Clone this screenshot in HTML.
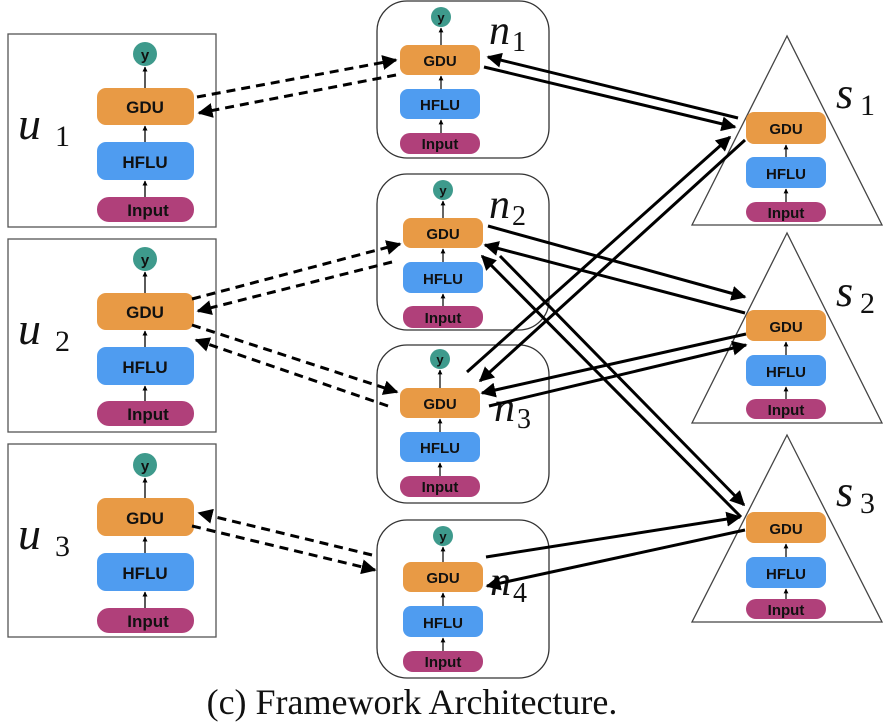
<!DOCTYPE html>
<html><head><meta charset="utf-8"><style>
html,body{margin:0;padding:0;background:#fff;}
svg{display:block;}
.b{font-family:"Liberation Sans",sans-serif;font-weight:bold;text-anchor:middle;fill:#111;}
.m{font-family:"Liberation Serif",serif;font-style:italic;fill:#111;}
.n{font-family:"Liberation Serif",serif;font-style:normal;fill:#111;}
</style></head><body>
<svg width="892" height="728" viewBox="0 0 892 728" xmlns="http://www.w3.org/2000/svg">
<defs>
<marker id="a" viewBox="0 0 10 10" refX="9" refY="5" markerWidth="5" markerHeight="5" orient="auto"><path d="M0,0 L10,5 L0,10 z" fill="#000"/></marker>
<marker id="s" viewBox="0 0 10 10" refX="9" refY="5" markerWidth="4" markerHeight="4" orient="auto"><path d="M0,0 L10,5 L0,10 z" fill="#000"/></marker>
</defs>

<g fill="none" stroke="#555" stroke-width="1.3">
<rect x="8" y="34" width="208" height="193"/>
<rect x="8" y="239" width="208" height="193"/>
<rect x="8" y="444" width="208" height="193"/>
</g>

<g>
<circle cx="145" cy="54" r="12" fill="#3E9A8C"/><text class="b" x="145" y="60" font-size="15">y</text>
<rect x="97" y="88" width="97" height="37" rx="9" fill="#E89A45"/><text class="b" x="145" y="113" font-size="17">GDU</text>
<rect x="97" y="142" width="97" height="38" rx="9" fill="#4F9CF0"/><text class="b" x="145" y="168" font-size="17">HFLU</text>
<rect x="97" y="197" width="97" height="25" rx="12" fill="#B0407A"/><text class="b" x="148" y="216" font-size="17">Input</text>
<g stroke="#000" stroke-width="1.3" marker-end="url(#s)"><line x1="145" y1="88" x2="145" y2="67"/><line x1="145" y1="142" x2="145" y2="126"/><line x1="145" y1="197" x2="145" y2="181"/></g>
</g>
<g>
<circle cx="145" cy="259" r="12" fill="#3E9A8C"/><text class="b" x="145" y="265" font-size="15">y</text>
<rect x="97" y="293" width="97" height="37" rx="9" fill="#E89A45"/><text class="b" x="145" y="318" font-size="17">GDU</text>
<rect x="97" y="347" width="97" height="38" rx="9" fill="#4F9CF0"/><text class="b" x="145" y="373" font-size="17">HFLU</text>
<rect x="97" y="401" width="97" height="25" rx="12" fill="#B0407A"/><text class="b" x="148" y="420" font-size="17">Input</text>
<g stroke="#000" stroke-width="1.3" marker-end="url(#s)"><line x1="145" y1="293" x2="145" y2="272"/><line x1="145" y1="347" x2="145" y2="331"/><line x1="145" y1="401" x2="145" y2="386"/></g>
</g>
<g>
<circle cx="145" cy="465" r="12" fill="#3E9A8C"/><text class="b" x="145" y="471" font-size="15">y</text>
<rect x="97" y="498" width="97" height="38" rx="9" fill="#E89A45"/><text class="b" x="145" y="524" font-size="17">GDU</text>
<rect x="97" y="553" width="97" height="38" rx="9" fill="#4F9CF0"/><text class="b" x="145" y="579" font-size="17">HFLU</text>
<rect x="97" y="608" width="97" height="25" rx="12" fill="#B0407A"/><text class="b" x="148" y="627" font-size="17">Input</text>
<g stroke="#000" stroke-width="1.3" marker-end="url(#s)"><line x1="145" y1="498" x2="145" y2="478"/><line x1="145" y1="553" x2="145" y2="537"/><line x1="145" y1="608" x2="145" y2="592"/></g>
</g>
<text class="m" x="18" y="139" font-size="46">u</text><text class="n" x="55" y="146" font-size="30">1</text>
<text class="m" x="18" y="344" font-size="46">u</text><text class="n" x="55" y="351" font-size="30">2</text>
<text class="m" x="18" y="549" font-size="46">u</text><text class="n" x="55" y="556" font-size="30">3</text>

<g fill="none" stroke="#333" stroke-width="1.3">
<rect x="377" y="1" width="172" height="157" rx="30"/>
<rect x="377" y="174" width="172" height="156" rx="30"/>
<rect x="377" y="345" width="172" height="158" rx="30"/>
<rect x="377" y="520" width="172" height="158" rx="30"/>
</g>
<g>
<circle cx="441" cy="17" r="10" fill="#3E9A8C"/><text class="b" x="441" y="22" font-size="13">y</text>
<rect x="400" y="45" width="80" height="30" rx="8" fill="#E89A45"/><text class="b" x="440" y="66" font-size="15">GDU</text>
<rect x="400" y="89" width="80" height="30" rx="8" fill="#4F9CF0"/><text class="b" x="440" y="110" font-size="15">HFLU</text>
<rect x="400" y="133" width="80" height="21" rx="10" fill="#B0407A"/><text class="b" x="440" y="149" font-size="15">Input</text>
<g stroke="#000" stroke-width="1.2" marker-end="url(#s)"><line x1="441" y1="45" x2="441" y2="28"/><line x1="441" y1="89" x2="441" y2="76"/><line x1="441" y1="133" x2="441" y2="120"/></g>
</g>
<g>
<circle cx="443" cy="190" r="10" fill="#3E9A8C"/><text class="b" x="443" y="195" font-size="13">y</text>
<rect x="403" y="218" width="80" height="30" rx="8" fill="#E89A45"/><text class="b" x="443" y="239" font-size="15">GDU</text>
<rect x="403" y="262" width="80" height="31" rx="8" fill="#4F9CF0"/><text class="b" x="443" y="284" font-size="15">HFLU</text>
<rect x="403" y="306" width="80" height="22" rx="10" fill="#B0407A"/><text class="b" x="443" y="323" font-size="15">Input</text>
<g stroke="#000" stroke-width="1.2" marker-end="url(#s)"><line x1="443" y1="218" x2="443" y2="201"/><line x1="443" y1="262" x2="443" y2="249"/><line x1="443" y1="306" x2="443" y2="294"/></g>
</g>
<g>
<circle cx="440" cy="359" r="10" fill="#3E9A8C"/><text class="b" x="440" y="364" font-size="13">y</text>
<rect x="400" y="388" width="80" height="30" rx="8" fill="#E89A45"/><text class="b" x="440" y="409" font-size="15">GDU</text>
<rect x="400" y="432" width="80" height="30" rx="8" fill="#4F9CF0"/><text class="b" x="440" y="453" font-size="15">HFLU</text>
<rect x="400" y="476" width="80" height="21" rx="10" fill="#B0407A"/><text class="b" x="440" y="492" font-size="15">Input</text>
<g stroke="#000" stroke-width="1.2" marker-end="url(#s)"><line x1="440" y1="388" x2="440" y2="370"/><line x1="440" y1="432" x2="440" y2="419"/><line x1="440" y1="476" x2="440" y2="463"/></g>
</g>
<g>
<circle cx="443" cy="536" r="10" fill="#3E9A8C"/><text class="b" x="443" y="541" font-size="13">y</text>
<rect x="403" y="562" width="80" height="30" rx="8" fill="#E89A45"/><text class="b" x="443" y="583" font-size="15">GDU</text>
<rect x="403" y="606" width="80" height="31" rx="8" fill="#4F9CF0"/><text class="b" x="443" y="628" font-size="15">HFLU</text>
<rect x="403" y="651" width="80" height="21" rx="10" fill="#B0407A"/><text class="b" x="443" y="667" font-size="15">Input</text>
<g stroke="#000" stroke-width="1.2" marker-end="url(#s)"><line x1="443" y1="562" x2="443" y2="547"/><line x1="443" y1="606" x2="443" y2="593"/><line x1="443" y1="651" x2="443" y2="638"/></g>
</g>
<text class="m" x="489" y="44" font-size="42">n</text><text class="n" x="512" y="51" font-size="28">1</text>
<text class="m" x="489" y="218" font-size="42">n</text><text class="n" x="512" y="225" font-size="28">2</text>
<text class="m" x="494" y="421" font-size="42">n</text><text class="n" x="517" y="428" font-size="28">3</text>
<text class="m" x="490" y="595" font-size="42">n</text><text class="n" x="513" y="602" font-size="28">4</text>

<g fill="none" stroke="#444" stroke-width="1.3">
<polygon points="787,36 692,225 882,225"/>
<polygon points="787,233 692,423 882,423"/>
<polygon points="787,435 692,622 882,622"/>
</g>
<g>
<rect x="746" y="112" width="80" height="32" rx="8" fill="#E89A45"/><text class="b" x="786" y="134" font-size="15">GDU</text>
<rect x="746" y="157" width="80" height="31" rx="8" fill="#4F9CF0"/><text class="b" x="786" y="179" font-size="15">HFLU</text>
<rect x="746" y="202" width="80" height="20" rx="10" fill="#B0407A"/><text class="b" x="786" y="218" font-size="15">Input</text>
<g stroke="#000" stroke-width="1.2" marker-end="url(#s)"><line x1="786" y1="157" x2="786" y2="145"/><line x1="786" y1="202" x2="786" y2="189"/></g>
</g>
<g>
<rect x="746" y="310" width="80" height="31" rx="8" fill="#E89A45"/><text class="b" x="786" y="332" font-size="15">GDU</text>
<rect x="746" y="355" width="80" height="31" rx="8" fill="#4F9CF0"/><text class="b" x="786" y="377" font-size="15">HFLU</text>
<rect x="746" y="399" width="80" height="20" rx="10" fill="#B0407A"/><text class="b" x="786" y="415" font-size="15">Input</text>
<g stroke="#000" stroke-width="1.2" marker-end="url(#s)"><line x1="786" y1="355" x2="786" y2="342"/><line x1="786" y1="399" x2="786" y2="387"/></g>
</g>
<g>
<rect x="746" y="512" width="80" height="31" rx="8" fill="#E89A45"/><text class="b" x="786" y="534" font-size="15">GDU</text>
<rect x="746" y="557" width="80" height="31" rx="8" fill="#4F9CF0"/><text class="b" x="786" y="579" font-size="15">HFLU</text>
<rect x="746" y="599" width="80" height="20" rx="10" fill="#B0407A"/><text class="b" x="786" y="615" font-size="15">Input</text>
<g stroke="#000" stroke-width="1.2" marker-end="url(#s)"><line x1="786" y1="557" x2="786" y2="544"/><line x1="786" y1="599" x2="786" y2="589"/></g>
</g>
<text class="m" x="836" y="108" font-size="44">s</text><text class="n" x="860" y="115" font-size="30">1</text>
<text class="m" x="836" y="306" font-size="44">s</text><text class="n" x="860" y="313" font-size="30">2</text>
<text class="m" x="836" y="506" font-size="44">s</text><text class="n" x="860" y="513" font-size="30">3</text>

<g stroke="#000" stroke-width="3" stroke-dasharray="9,6" fill="none" marker-end="url(#a)">
<line x1="197" y1="97" x2="396" y2="60"/>
<line x1="396" y1="75" x2="199" y2="113"/>
<line x1="192" y1="299" x2="400" y2="244"/>
<line x1="392" y1="262" x2="198" y2="311"/>
<line x1="192" y1="325" x2="397" y2="392"/>
<line x1="388" y1="406" x2="196" y2="340"/>
<line x1="372" y1="555" x2="199" y2="513"/>
<line x1="192" y1="526" x2="375" y2="570"/>
</g>
<g stroke="#000" stroke-width="3" fill="none" marker-end="url(#a)">
<line x1="738" y1="118" x2="488" y2="57"/>
<line x1="484" y1="67" x2="735" y2="127"/>
<line x1="745" y1="140" x2="480" y2="381"/>
<line x1="467" y1="372" x2="730" y2="137"/>
<line x1="488" y1="226" x2="745" y2="297"/>
<line x1="745" y1="313" x2="485" y2="245"/>
<line x1="500" y1="256" x2="744" y2="505"/>
<line x1="741" y1="517" x2="482" y2="256"/>
<line x1="746" y1="334" x2="482" y2="393"/>
<line x1="489" y1="406" x2="746" y2="345"/>
<line x1="486" y1="557" x2="740" y2="517"/>
<line x1="745" y1="530" x2="487" y2="586"/>
</g>

<text x="412" y="714" font-family="Liberation Serif,serif" font-size="36" text-anchor="middle" fill="#111">(c)  Framework Architecture.</text>
</svg>
</body></html>
